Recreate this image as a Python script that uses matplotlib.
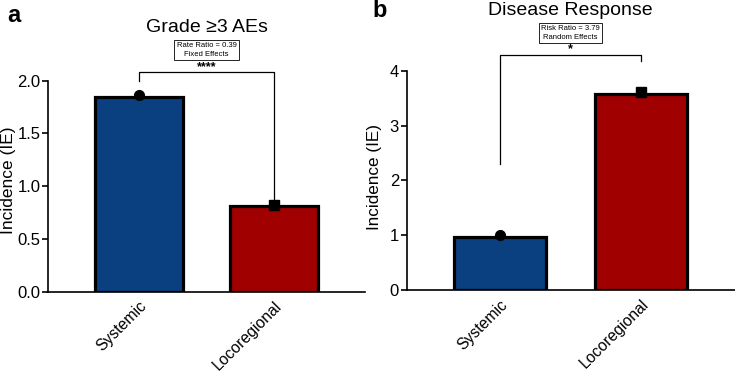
import numpy as np
import matplotlib as mpl
mpl.use('Agg')
import matplotlib.pyplot as plt

mpl.rcParams['font.family'] = ['Liberation Sans', 'DejaVu Sans']

groups = ['Systemic', 'Locoregional']
colors = ['#0a3f80', '#a00000']
markers = ['o', 's']

# panel a: grade >=3 adverse events
ae_values = [1.85, 0.81]
ae_points = [1.86, 0.82]
ae_ticks = [0.0, 0.5, 1.0, 1.5, 2.0]
ae_ticklabels = ['0.0', '0.5', '1.0', '1.5', '2.0']

# panel b: disease response
dr_values = [0.97, 3.58]
dr_points = [1.0, 3.61]
dr_ticks = [0, 1, 2, 3, 4]
dr_ticklabels = ['0', '1', '2', '3', '4']

W, H = 735.0, 372.0
fig = plt.figure(figsize=(7.35, 3.72), dpi=100)


def px_axes(x0, x1, ytop, ybot):
    return fig.add_axes([x0 / W, 1 - ybot / H, (x1 - x0) / W, (ybot - ytop) / H])


def draw_panel(ax, values, points, ticks, ticklabels, xlim):
    x = np.arange(len(groups))
    ax.bar(x, values, width=0.65, color=colors, edgecolor='black',
           linewidth=2.3, zorder=2)
    for xi, p, m in zip(x, points, markers):
        ax.plot(xi, p, marker=m, color='black', ms=7, zorder=3, clip_on=False)
    ax.set_xlim(xlim)
    ax.set_ylim(ticks[0], ticks[-1])
    ax.set_yticks(ticks)
    ax.set_yticklabels(ticklabels)
    ax.set_xticks(x)
    ax.set_xticklabels(groups, rotation=45, ha='right', va='top',
                       rotation_mode='anchor')
    ax.tick_params(axis='x', length=0, labelsize=11.3, pad=5)
    ax.tick_params(axis='y', length=4, width=1.2, labelsize=12, pad=1.5)
    for s in ['top', 'right']:
        ax.spines[s].set_visible(False)
    for s in ['left', 'bottom']:
        ax.spines[s].set_linewidth(1.2)


# panel a
ax1 = px_axes(48, 365, 80.7, 291.7)
draw_panel(ax1, ae_values, ae_points, ae_ticks, ae_ticklabels, (-0.674, 1.674))
ax1.plot([0, 0, 1, 1], [2.0, 2.08, 2.08, 0.86], color='black', lw=0.9,
         clip_on=False)
ax1.text(0.5, 2.13, '****', ha='center', va='center', fontsize=9,
         fontweight='bold')
ax1.text(0.5, 2.29, 'Rate Ratio = 0.39\nFixed Effects', ha='center',
         va='center', fontsize=5.5, linespacing=1.4,
         bbox=dict(boxstyle='square,pad=0.3', fc='white', ec='black', lw=0.6))
fig.text(207 / W, 1 - 32 / H, 'Grade \u22653 AEs', ha='center',
         va='baseline', fontsize=14)
fig.text(7 / W, 1 - 22 / H, 'a', ha='left', va='baseline', fontsize=17,
         fontweight='bold')
fig.text(8.5 / W, 1 - 180 / H, 'Incidence (IE)', rotation=90, ha='center',
         va='center', fontsize=12.5)

# panel b
ax2 = px_axes(406.7, 735, 70.7, 290)
draw_panel(ax2, dr_values, dr_points, dr_ticks, dr_ticklabels, (-0.662, 1.667))
ax2.plot([0, 0, 1, 1], [2.3, 4.29, 4.29, 4.18], color='black', lw=0.9,
         clip_on=False)
ax2.text(0.5, 4.40, '*', ha='center', va='center', fontsize=9,
         fontweight='bold')
ax2.text(0.5, 4.69, 'Risk Ratio = 3.79\nRandom Effects', ha='center',
         va='center', fontsize=5.5, linespacing=1.4,
         bbox=dict(boxstyle='square,pad=0.3', fc='white', ec='black', lw=0.6))
fig.text(570 / W, 1 - 15 / H, 'Disease Response', ha='center',
         va='baseline', fontsize=14)
fig.text(372 / W, 1 - 17 / H, 'b', ha='left', va='baseline', fontsize=17,
         fontweight='bold')
fig.text(375 / W, 1 - 177 / H, 'Incidence (IE)', rotation=90, ha='center',
         va='center', fontsize=12.3)

plt.savefig('out.png', dpi=100)
